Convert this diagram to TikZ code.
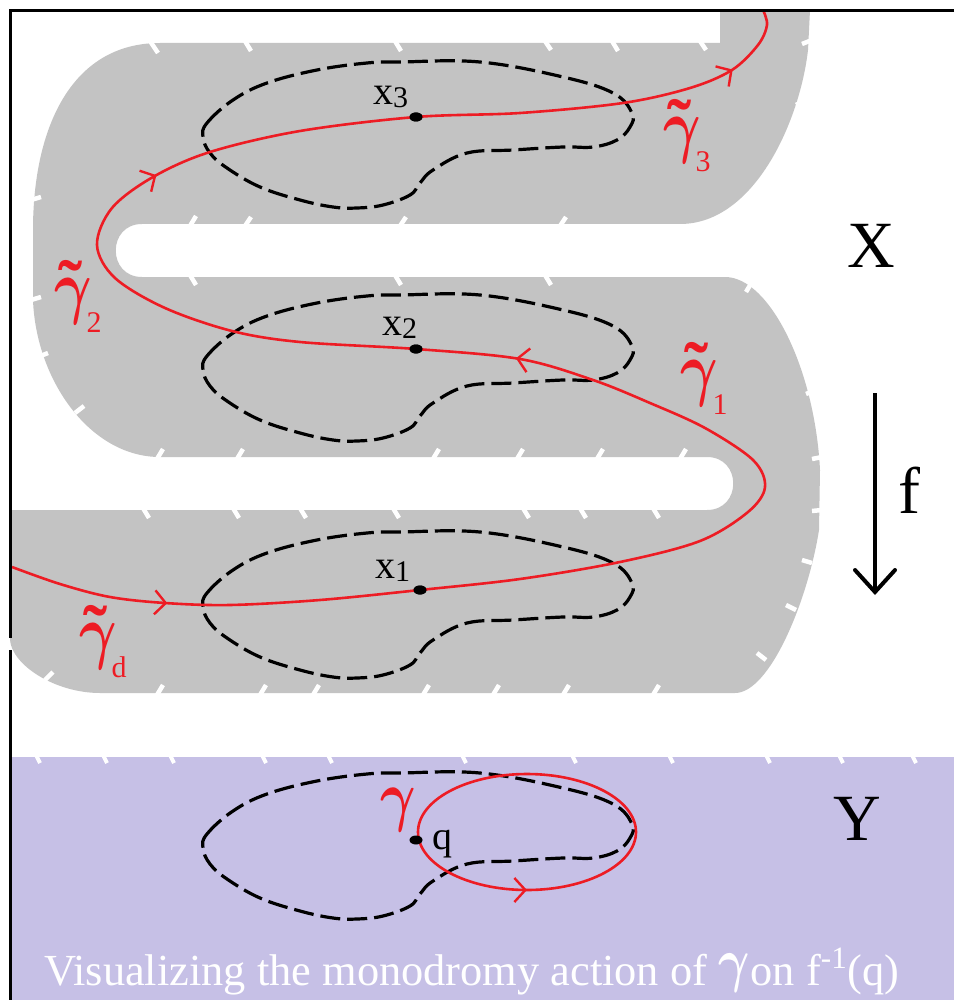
\RequirePackage{fix-cm}
\documentclass[tikz,border=0pt]{standalone}
\usepackage{fontspec}
\setmainfont{Liberation Serif}
\usetikzlibrary{arrows.meta,decorations.markings,shapes.geometric}
\definecolor{grayX}{HTML}{C3C3C3}
\definecolor{lav}{HTML}{C6C0E6}
\definecolor{redc}{HTML}{ED1C24}
\newcommand{\gam}{\scalebox{0.8}[1]{\boldmath$\gamma$}}
\newcommand{\tgam}[1]{\rlap{\kern4pt\bfseries\char"02DC}\gam\kern-5pt\raisebox{-22pt}{\fontsize{30}{30}\selectfont #1}}
\newcommand{\xsub}[1]{x\raisebox{-3pt}{\fontsize{30}{30}\selectfont #1}}
\begin{document}
\begin{tikzpicture}[x=1pt,y=-1pt,
  lbl/.style={inner sep=0pt, outer sep=0pt},
  xlbl/.style={lbl, anchor=base west, font=\fontsize{40}{40}\selectfont},
  glbl/.style={lbl, anchor=base west, text=redc, font=\fontsize{72}{72}\selectfont},
  biglbl/.style={lbl, anchor=base, font=\fontsize{66}{66}\selectfont},
  loopline/.style={black, line width=3.2pt, dash pattern=on 20pt off 7pt},
  redline/.style={draw=redc, line width=2.6pt},
  barb/.style={redc, line width=2.4pt},
  nick/.style={white, line width=4.5pt},
  dotn/.style={ellipse, fill=black, minimum width=13pt, minimum height=9pt, inner sep=0pt},
  kidney/.pic={\draw[loopline] plot[smooth cycle, tension=0.65] coordinates {
    (203,75) (207,61) (233,38) (267,21) (317,8) (367,1) (400,0) (480,0) (563,15)
    (613,31) (632,51) (630,65) (617,78) (593,85) (563,85) (513,88) (467,91)
    (433,108) (420,121) (410,133) (383,143) (357,146) (333,145) (300,138)
    (260,125) (227,106) (210,91)};}
]
\useasboundingbox (0,0) rectangle (954,1000);
% space X
\fill[grayX] (720,10) -- (810,10) -- (808,50) .. controls (800,120) and (755,224) .. (680,224)
  -- (142,224) .. controls (107,224) and (107,277) .. (142,277)
  -- (725,277) .. controls (770,277) and (815,370) .. (820,470)
  -- (819,530) .. controls (808,600) and (770,693) .. (735,693)
  -- (100,693) .. controls (55,693) and (12,665) .. (10,640)
  -- (10,510) -- (707,510) .. controls (742,510) and (742,457) .. (707,457)
  -- (160,457) .. controls (90,457) and (36,380) .. (33,300)
  -- (33,230) .. controls (33,130) and (70,43) .. (160,43) -- (720,43) -- cycle;
% rough edges of X
\foreach \px/\py/\dx/\dy in {
  150/41/8/12, 245/41/6/10, 395/41/6/10, 545/41/6/9, 612/41/6/10, 700/41/6/9,
  812/40/-10/4, 806/100/-10/5, 796/140/-10/6, 776/175/-9/7, 754/200/-8/8,
  190/226/6/-10, 245/226/6/-9, 400/226/6/-9, 560/226/6/-9,
  190/275/6/10, 395/275/6/10, 545/275/6/10, 752/282/-6/10,
  800/330/-10/5, 816/390/-10/4, 822/457/-10/2, 822/510/-10/1, 812/563/-10/-3, 796/610/-10/-5, 766/660/-9/-7,
  157/459/6/-10, 237/459/6/-10, 433/459/6/-10, 517/459/6/-10, 597/459/6/-10, 680/459/6/-10,
  143/508/6/10, 233/508/6/10, 300/508/6/10, 393/508/6/10, 523/508/6/10, 580/508/6/10, 653/508/6/10,
  38/357/10/-4, 75/413/9/-7,
  45/680/8/-8, 157/695/6/-10, 260/695/6/-10, 313/695/6/-10, 423/695/6/-10, 493/695/6/-10, 563/695/6/-10, 653/695/6/-10,
  31/200/10/-3, 31/300/10/-3}
  \draw[nick] (\px,\py) -- ++(\dx,\dy);
% space Y
\fill[lav] (10,757) rectangle (954,1000);
\foreach \px in {36,103,170,262,328,462,572,669,766,839,912}
  \draw[nick, line width=4pt] (\px,755) -- ++(4,8);
% loops
\pic at (0,62) {kidney};
\pic at (0,295) {kidney};
\pic at (0,532) {kidney};
\pic at (0,773) {kidney};
% points
\node[dotn] (x3) at (416,117) {};
\node[dotn] (x2) at (416,349) {};
\node[dotn] (x1) at (420,590) {};
% red path in X
\draw[redline, postaction={decorate}, decoration={markings,
    mark=at position 0.07 with {\arrow[barb]{Straight Barb[length=11pt,width=24pt]}},
    mark=at position 0.47 with {\arrow[barb]{Straight Barb[length=11pt,width=24pt]}},
    mark=at position 0.71 with {\arrow[barb]{Straight Barb[length=11pt,width=24pt]}},
    mark=at position 0.968 with {\arrow[barb]{Straight Barb[length=11pt,width=24pt]}}}]
  plot[smooth, tension=0.55] coordinates {(12,567) (60,584) (110,597) (165,603) (230,605) (320,600)
    (x1.center) (520,579) (620,562) (700,541) (748,512) (765,487) (753,460) (705,428) (650,403)
    (593,380) (520,359) (x2.center) (300,342) (232,331) (165,308) (115,278) (97,245) (112,208)
    (153,177) (210,152) (300,131) (x3.center) (520,113) (623,103) (690,88) (732,70) (758,45)
    (767,25) (763,10)};
\node[dotn] at (x3) {};
\node[dotn] at (x2) {};
\node[dotn] at (x1) {};
% red loop in Y
\draw[redline, postaction={decorate}, decoration={markings,
    mark=at position 0.25 with {\arrowreversed[barb]{Straight Barb[length=11pt,width=24pt]}}}]
  (527,832) ellipse [x radius=109, y radius=58];
\node[dotn] (q) at (416,840) {};
% labels
\node[xlbl] (lx3) at (373,105) {\xsub{3}};
\node[xlbl] (lx2) at (382,335) {\xsub{2}};
\node[xlbl] (lx1) at (375,578) {\xsub{1}};
\node[xlbl] (lq) at (432,849) {q};
\node[glbl] (g3) at (663,150) {\tgam{3}};
\node[glbl] (g2) at (54,310) {\tgam{2}};
\node[glbl] (g1) at (680,392) {\tgam{1}};
\node[glbl] (gd) at (79,655) {\tgam{d}};
\node[glbl, font=\fontsize{68}{68}\selectfont] (g) at (380,818) {\gam};
\node[biglbl] (lX) at (871,267) {X};
\node[biglbl] (lY) at (857,840) {Y};
\node[biglbl] (lf) at (909,513) {f};
% arrow f
\coordinate (ftop) at (875,393);
\coordinate (fbot) at (875,595);
\draw[line width=4pt, -{Straight Barb[length=22pt,width=40pt,line cap=round]}] (ftop) -- (fbot);
% caption
\node[lbl, anchor=base west, text=white, font=\fontsize{44.4}{45}\selectfont] (cap) at (44,985)
  {Visualizing the monodromy action of \raisebox{5pt}{\fontsize{60}{60}\selectfont\gam}\kern1pt on f\textsuperscript{-1}(q)};
% frame
\draw[line width=3pt] (954,11) -- (10.5,11) -- (10.5,638);
\draw[line width=3pt] (10.5,650) -- (10.5,1000);
\end{tikzpicture}
\end{document}
